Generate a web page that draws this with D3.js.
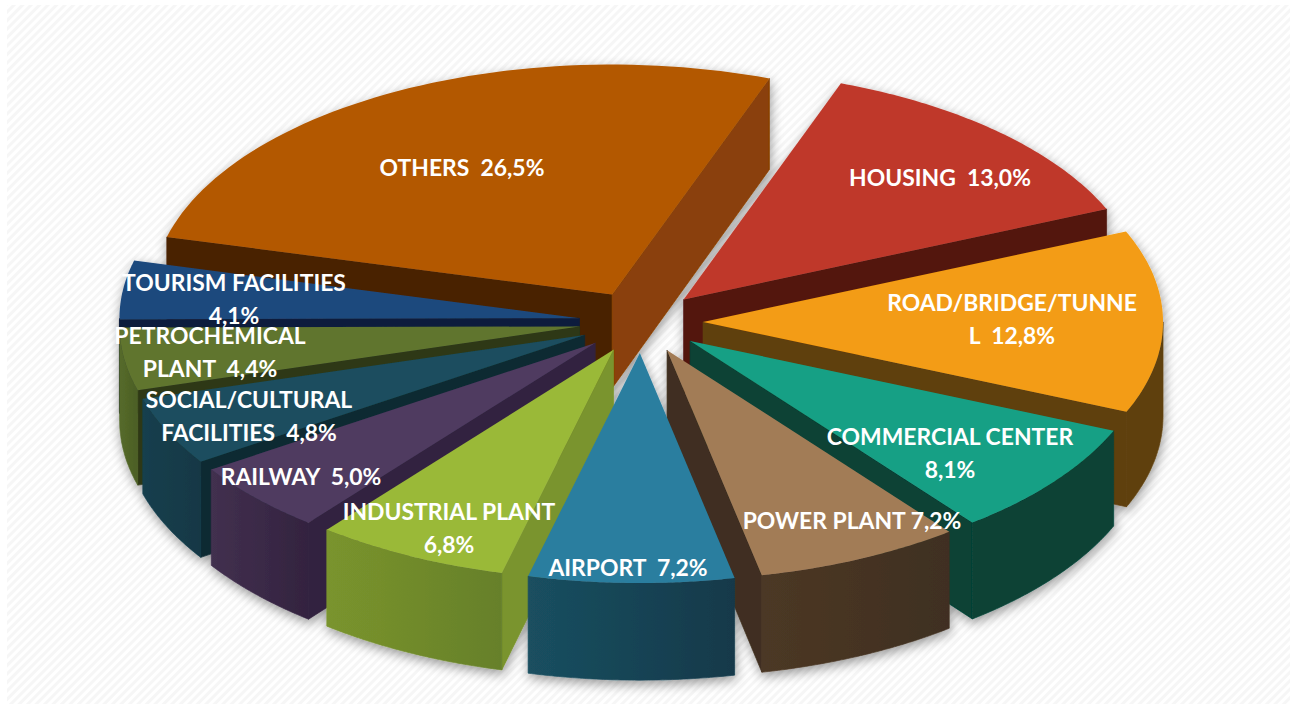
<!DOCTYPE html>
<html>
<head>
<meta charset="utf-8">
<script src="https://d3js.org/d3.v7.min.js"></script>
<style>
    html, body { margin: 0; padding: 0; background: #fff; }
    svg { display: block; }
    text { font-family: Lato, "Open Sans", sans-serif; font-weight: 700; fill: #fff; white-space: pre; }
    .wall { stroke-width: 0.7; stroke-linejoin: round; }
</style>
</head>
<body>
<div id="chart"></div>
<script>
// data, clockwise from the housing slice
var categories = ["HOUSING", "ROAD/BRIDGE/TUNNEL", "COMMERCIAL CENTER", "POWER PLANT", "AIRPORT",
    "INDUSTRIAL PLANT", "RAILWAY", "SOCIAL/CULTURAL FACILITIES", "PETROCHEMICAL PLANT",
    "TOURISM FACILITIES", "OTHERS"];
var shares = [13.0, 12.8, 8.1, 7.2, 7.2, 6.8, 5.0, 4.8, 4.4, 4.1, 26.5];

// label text as wrapped in the picture, the value goes on the end of the last line
var labelLines = [["HOUSING  "], ["ROAD/BRIDGE/TUNNE", "L  "], ["COMMERCIAL CENTER", ""], ["POWER PLANT "],
    ["AIRPORT  "], ["INDUSTRIAL PLANT", ""], ["RAILWAY  "], ["SOCIAL/CULTURAL", "FACILITIES  "],
    ["PETROCHEMICAL", "PLANT  "], ["TOURISM FACILITIES", ""], ["OTHERS  "]];

// hand placed labels, first line centre
var labelSpots = [[940, 178], [1012, 303], [950, 437], [852, 521], [628, 568], [449, 512],
    [301, 477], [249, 400], [210, 336], [234, 283], [462, 168]];

var topColors = ["#bf392b", "#f39c12", "#16a085", "#a27b56", "#2a7e9f", "#9ab939",
    "#4f3a60", "#1a4d5e", "#60742f", "#1f497d", "#b35806"];
var startWallColors = ["#52160f", "#5f3f0a", "#074236", "#3f2f20", "#1a4f60", "#7a942d",
    "#33233f", "#0c2a32", "#2e3816", "#0f1f3d", "#4a2200"];
var endWallColors = ["#52160f", "#5f3f0a", "#074236", "#3f2f20", "#1a4f60", "#7a942d",
    "#33233f", "#0c2a32", "#2e3816", "#0f1f3d", "#8a4007"];
var outerColors = [["#52160f", "#52160f"], ["#5f3f0a", "#5f3f0a"], ["#074236", "#074236"], ["#4c3825", "#3f2f20"],
    ["#1a4f60", "#13394a"], ["#7a942d", "#66802a"], ["#42304f", "#33233f"], ["#143f4e", "#123845"],
    ["#556a2a", "#4c5f25"], ["#0f1f3d", "#0f1f3d"], ["#8a4007", "#8a4007"]];

var width = 1295, height = 704;
var radius = 460, explode = 62, reach = radius + explode;
var deg = Math.PI / 180;

var x = d3.scaleLinear().domain([-reach, reach]).range([119, 1163]);
var y = d3.scaleLinear().domain([-reach, reach]).range([583, 61]);

var pie = d3.pie().sort(null).value(function(d) { return d; })
    .startAngle(20 * deg).endAngle(380 * deg);

var line = d3.line().x(function(p) { return p[0]; }).y(function(p) { return p[1]; });

// plane point of a slice to screen, drop 0 = top face, 1 = bottom face
function project(s, angle, r, drop) {
    var mid = (s.startAngle + s.endAngle) / 2;
    var wx = r * Math.sin(angle) + explode * Math.sin(mid);
    var wy = r * Math.cos(angle) + explode * Math.cos(mid);
    return [x(wx), y(wy) + drop * (94 - wy * 0.006)];
}

function arcPoints(s, from, to, drop) {
    return d3.range(0, 61).map(function(i) {
        return project(s, from + (to - from) * i / 60, radius, drop);
    });
}

var svg = d3.select("#chart").append("svg")
    .attr("width", width)
    .attr("height", height);

var defs = svg.append("defs");

var stripes = defs.append("pattern")
    .attr("id", "stripes")
    .attr("patternUnits", "userSpaceOnUse")
    .attr("width", 6)
    .attr("height", 6)
    .attr("patternTransform", "rotate(45)");
stripes.append("rect").attr("width", 6).attr("height", 6).attr("fill", "#ffffff");
stripes.append("rect").attr("width", 3).attr("height", 6).attr("fill", "#f6f6f6");

var shadow = defs.append("filter")
    .attr("id", "shadow")
    .attr("x", "-10%").attr("y", "-10%").attr("width", "120%").attr("height", "120%");
shadow.append("feDropShadow")
    .attr("dx", 1)
    .attr("dy", 4)
    .attr("stdDeviation", 6)
    .attr("flood-color", "#000")
    .attr("flood-opacity", 0.4);

svg.append("rect")
    .attr("x", 7).attr("y", 5)
    .attr("width", 1283).attr("height", 699)
    .attr("fill", "url(#stripes)");

var slices = pie(shares);

// back to front
var order = [10, 0, 1, 2, 9, 8, 7, 6, 5, 3, 4];
var pieGroup = svg.append("g").attr("filter", "url(#shadow)");

order.forEach(function(i) {
    var s = slices[i];
    var g = pieGroup.append("g").attr("class", "slice");
    var tipTop = project(s, 0, 0, 0), tipBottom = project(s, 0, 0, 1);

    // cut faces that look at the viewer
    if (Math.sin(s.startAngle) < 0) {
        g.append("path")
            .attr("class", "wall")
            .attr("d", line([tipTop, project(s, s.startAngle, radius, 0), project(s, s.startAngle, radius, 1), tipBottom]) + "Z")
            .attr("fill", startWallColors[i])
            .attr("stroke", startWallColors[i]);
    }
    if (Math.sin(s.endAngle) > 0) {
        g.append("path")
            .attr("class", "wall")
            .attr("d", line([tipTop, project(s, s.endAngle, radius, 0), project(s, s.endAngle, radius, 1), tipBottom]) + "Z")
            .attr("fill", endWallColors[i])
            .attr("stroke", endWallColors[i]);
    }

    // rim, only the front half of the circle
    var from = Math.max(s.startAngle, 90 * deg), to = Math.min(s.endAngle, 270 * deg);
    if (from < to) {
        var rimTop = arcPoints(s, from, to, 0), rimBottom = arcPoints(s, from, to, 1).reverse();
        var xs = d3.extent(rimTop, function(p) { return p[0]; });
        var grad = defs.append("linearGradient")
            .attr("id", "rim" + i)
            .attr("gradientUnits", "userSpaceOnUse")
            .attr("x1", xs[0]).attr("x2", xs[1])
            .attr("y1", 0).attr("y2", 0);
        grad.append("stop").attr("offset", 0).attr("stop-color", outerColors[i][0]);
        grad.append("stop").attr("offset", 1).attr("stop-color", outerColors[i][1]);
        g.append("path")
            .attr("class", "wall")
            .attr("d", line(rimTop.concat(rimBottom)) + "Z")
            .attr("fill", "url(#rim" + i + ")")
            .attr("stroke", "url(#rim" + i + ")");
    }

    g.append("path")
        .attr("d", line([tipTop].concat(arcPoints(s, s.startAngle, s.endAngle, 0))) + "Z")
        .attr("fill", topColors[i]);
});

// labels
var pct = d3.format(".1f");
var labels = svg.append("g").selectAll("text")
    .data(categories)
    .enter().append("text")
    .attr("text-anchor", "middle")
    .attr("font-size", 22.9)
    .attr("data-category", function(d) { return d; });

labels.each(function(d, i) {
    var lines = labelLines[i];
    var value = pct(shares[i]).replace(".", ",") + "%";
    d3.select(this).selectAll("tspan")
        .data(lines)
        .enter().append("tspan")
        .attr("x", labelSpots[i][0])
        .attr("y", function(t, j) { return labelSpots[i][1] + 8 + j * 33; })
        .text(function(t, j) { return j === lines.length - 1 ? t + value : t; });
});
</script>
</body>
</html>
